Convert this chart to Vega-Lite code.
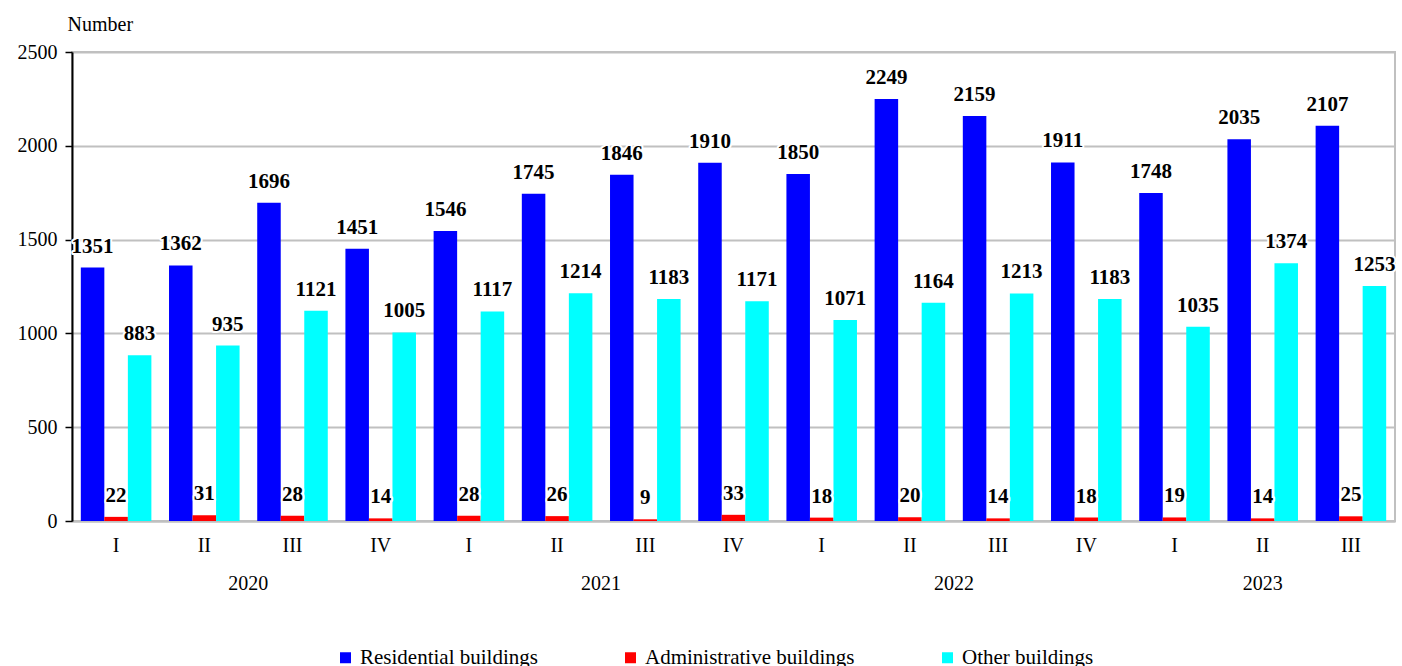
{
  "$schema": "https://vega.github.io/schema/vega-lite/v6.json",
  "width": 1323,
  "height": 469,
  "autosize": {"type": "none"},
  "padding": {"left": 72, "top": 52, "right": 7, "bottom": 145},
  "config": {"font": "Liberation Serif", "view": {"stroke": "#c0c0c0", "strokeWidth": 2},
    "axis": {"labelFont": "Liberation Serif", "titleFont": "Liberation Serif"},
    "legend": {"labelFont": "Liberation Serif"},
    "text": {"font": "Liberation Serif"}},
  "data": {"values": [
    {"q": "2020 I", "series": "Residential buildings", "value": 1351},
    {"q": "2020 I", "series": "Administrative buildings", "value": 22},
    {"q": "2020 I", "series": "Other buildings", "value": 883},
    {"q": "2020 II", "series": "Residential buildings", "value": 1362},
    {"q": "2020 II", "series": "Administrative buildings", "value": 31},
    {"q": "2020 II", "series": "Other buildings", "value": 935},
    {"q": "2020 III", "series": "Residential buildings", "value": 1696},
    {"q": "2020 III", "series": "Administrative buildings", "value": 28},
    {"q": "2020 III", "series": "Other buildings", "value": 1121},
    {"q": "2020 IV", "series": "Residential buildings", "value": 1451},
    {"q": "2020 IV", "series": "Administrative buildings", "value": 14},
    {"q": "2020 IV", "series": "Other buildings", "value": 1005},
    {"q": "2021 I", "series": "Residential buildings", "value": 1546},
    {"q": "2021 I", "series": "Administrative buildings", "value": 28},
    {"q": "2021 I", "series": "Other buildings", "value": 1117},
    {"q": "2021 II", "series": "Residential buildings", "value": 1745},
    {"q": "2021 II", "series": "Administrative buildings", "value": 26},
    {"q": "2021 II", "series": "Other buildings", "value": 1214},
    {"q": "2021 III", "series": "Residential buildings", "value": 1846},
    {"q": "2021 III", "series": "Administrative buildings", "value": 9},
    {"q": "2021 III", "series": "Other buildings", "value": 1183},
    {"q": "2021 IV", "series": "Residential buildings", "value": 1910},
    {"q": "2021 IV", "series": "Administrative buildings", "value": 33},
    {"q": "2021 IV", "series": "Other buildings", "value": 1171},
    {"q": "2022 I", "series": "Residential buildings", "value": 1850},
    {"q": "2022 I", "series": "Administrative buildings", "value": 18},
    {"q": "2022 I", "series": "Other buildings", "value": 1071},
    {"q": "2022 II", "series": "Residential buildings", "value": 2249},
    {"q": "2022 II", "series": "Administrative buildings", "value": 20},
    {"q": "2022 II", "series": "Other buildings", "value": 1164},
    {"q": "2022 III", "series": "Residential buildings", "value": 2159},
    {"q": "2022 III", "series": "Administrative buildings", "value": 14},
    {"q": "2022 III", "series": "Other buildings", "value": 1213},
    {"q": "2022 IV", "series": "Residential buildings", "value": 1911},
    {"q": "2022 IV", "series": "Administrative buildings", "value": 18},
    {"q": "2022 IV", "series": "Other buildings", "value": 1183},
    {"q": "2023 I", "series": "Residential buildings", "value": 1748},
    {"q": "2023 I", "series": "Administrative buildings", "value": 19},
    {"q": "2023 I", "series": "Other buildings", "value": 1035},
    {"q": "2023 II", "series": "Residential buildings", "value": 2035},
    {"q": "2023 II", "series": "Administrative buildings", "value": 14},
    {"q": "2023 II", "series": "Other buildings", "value": 1374},
    {"q": "2023 III", "series": "Residential buildings", "value": 2107},
    {"q": "2023 III", "series": "Administrative buildings", "value": 25},
    {"q": "2023 III", "series": "Other buildings", "value": 1253}
  ]},
  "resolve": {"axis": {"x": "independent"}},
  "layer": [
    {
      "mark": {"type": "bar"},
      "encoding": {
        "x": {"field": "q", "type": "ordinal", "sort": null,
          "scale": {"paddingInner": 0.2, "paddingOuter": 0.1},
          "axis": {"title": null, "orient": "bottom", "labelExpr": "split(datum.value, ' ')[1]", "labelAngle": 0, "labelFontSize": 20, "labelColor": "black", "ticks": false, "domainColor": "#c0c0c0", "domainWidth": 2, "labelPadding": 14, "grid": false, "labelOverlap": false}},
        "xOffset": {"field": "series", "type": "nominal", "scale": {"domain": ["Residential buildings", "Administrative buildings", "Other buildings"], "paddingInner": 0, "paddingOuter": 0}},
        "y": {"field": "value", "type": "quantitative", "scale": {"domain": [0, 2500], "nice": false},
          "axis": {"title": "Number", "titleAngle": 0, "titleAlign": "left", "titleBaseline": "middle", "titleX": -5, "titleY": -28, "titleFontSize": 20, "titleFontWeight": "normal", "titleColor": "black", "values": [0, 500, 1000, 1500, 2000, 2500], "format": "d", "labelFontSize": 20, "labelColor": "black", "labelPadding": 8, "tickSize": 7, "tickColor": "black", "tickWidth": 1.5, "domainColor": "black", "domainWidth": 2, "gridColor": "#c0c0c0", "gridWidth": 2}},
        "color": {"field": "series", "type": "nominal",
          "scale": {"domain": ["Residential buildings", "Administrative buildings", "Other buildings"], "range": ["#0000ff", "#ff0000", "#00ffff"]},
          "legend": {"title": null, "orient": "none", "direction": "horizontal", "columns": 3, "legendX": 263, "legendY": 595, "padding": 0, "symbolType": "square", "symbolSize": 121, "symbolStrokeWidth": 0, "labelFontSize": 21, "labelColor": "black", "labelLimit": 0, "columnPadding": 82, "labelOffset": 4}}
      }
    },
    {
      "mark": {"type": "text", "fill": "white", "stroke": "white", "strokeWidth": 4, "strokeJoin": "round", "fontSize": 21, "fontWeight": "bold", "baseline": "alphabetic", "dy": -15},
      "encoding": {
        "x": {"field": "q", "type": "ordinal", "sort": null, "axis": null},
        "xOffset": {"field": "series", "type": "nominal"},
        "y": {"field": "value", "type": "quantitative"},
        "text": {"field": "value", "type": "quantitative"}
      }
    },
    {
      "mark": {"type": "text", "fill": "black", "fontSize": 21, "fontWeight": "bold", "baseline": "alphabetic", "dy": -15},
      "encoding": {
        "x": {"field": "q", "type": "ordinal", "sort": null,
          "axis": {"title": null, "orient": "bottom", "labelExpr": "indexof(['2020 II','2021 II','2022 II','2023 II'], datum.value) >= 0 ? split(datum.value, ' ')[0] : ''", "labelOffset": {"condition": {"test": "datum.value == '2023 II'", "value": 0}, "value": 44}, "ticks": false, "domain": false, "grid": false, "labelPadding": 52, "labelFontSize": 20, "labelColor": "black", "labelAngle": 0, "labelOverlap": false}},
        "xOffset": {"field": "series", "type": "nominal"},
        "y": {"field": "value", "type": "quantitative"},
        "text": {"field": "value", "type": "quantitative"}
      }
    }
  ]
}
